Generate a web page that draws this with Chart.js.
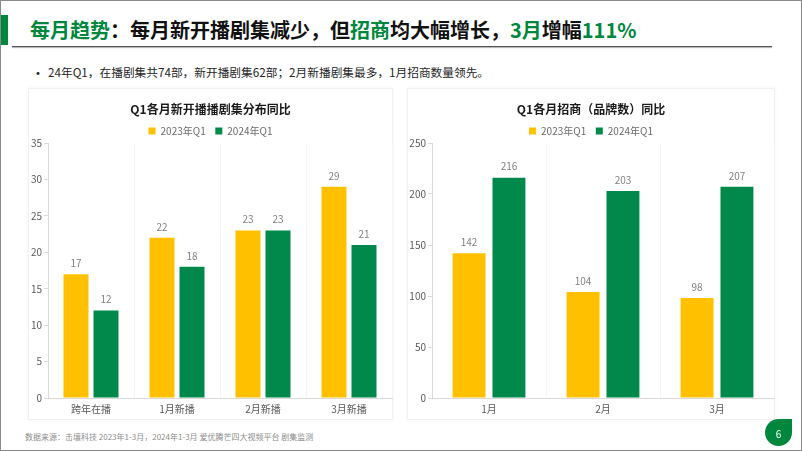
<!DOCTYPE html>
<html>
<head>
<meta charset="utf-8">
<script src="https://cdn.jsdelivr.net/npm/chart.js@4.4.1/dist/chart.umd.min.js"></script>
<style>
  html,body{margin:0;padding:0;background:#fff;}
  body{width:802px;height:451px;position:relative;overflow:hidden;font-family:"Noto Sans CJK SC","Noto Sans",sans-serif;}
  .frame{position:absolute;left:0;top:0;width:802px;height:451px;box-sizing:border-box;border:1px solid #8a8a8a;pointer-events:none;}
  .gbar{position:absolute;left:0;top:15px;width:8px;height:30px;background:#00873E;}
  .title{position:absolute;left:30px;top:19px;font-size:20px;font-weight:bold;line-height:22px;color:#111;white-space:nowrap;}
  .title .g{color:#00873E;}
  .uline{position:absolute;left:12px;top:46px;width:760px;height:1px;background:#555;box-shadow:0 1px 1px rgba(0,0,0,0.35);}
  .bullet{position:absolute;left:31px;top:64px;font-size:12px;line-height:16px;color:#262626;white-space:nowrap;}
  .bullet .dot{position:absolute;left:0;top:0;font-size:14px;}
  .bullet .txt{position:absolute;left:17px;top:0;font-size:11.7px;}
  .panel{position:absolute;top:88px;height:332px;background:#fff;border:1px solid #f0f0f0;box-sizing:border-box;box-shadow:0 0 3px rgba(0,0,0,0.05);}
  .panel canvas{position:absolute;left:0;top:0;}
  .foot{position:absolute;left:25px;top:431px;font-size:8px;line-height:12px;color:#8c8c8c;white-space:nowrap;}
  .leaf{position:absolute;left:765px;top:419px;width:27px;height:27px;background:#00873E;border-radius:50% 0 50% 50%;}
  .leaf span{position:absolute;left:0;top:0;width:27px;line-height:29px;text-align:center;color:#fff;font-size:10px;}
</style>
</head>
<body>
<div class="gbar"></div>
<div class="title"><span class="g">每月趋势</span>：每月新开播剧集减少，但<span class="g">招商</span>均大幅增长，<span class="g">3月</span>增幅<span class="g">111%</span></div>
<div class="uline"></div>
<div class="bullet"><span class="dot">•</span><span class="txt">24年Q1，在播剧集共74部，新开播剧集62部；2月新播剧集最多，1月招商数量领先。</span></div>
<div class="panel" style="left:28px;width:365px;"><canvas id="c1" width="365" height="332"></canvas></div>
<div class="panel" style="left:407px;width:368px;"><canvas id="c2" width="368" height="332"></canvas></div>
<div class="foot">数据来源：击壤科技 2023年1-3月，2024年1-3月 爱优腾芒四大视频平台 剧集监测</div>
<div class="leaf"><span>6</span></div>
<div class="frame"></div>
<script>
// ---- data ----
const seriesNames = ['2023年Q1', '2024年Q1'];
const dramaCategories = ['跨年在播', '1月新播', '2月新播', '3月新播'];
const drama2023 = [17, 22, 23, 29];
const drama2024 = [12, 18, 23, 21];
const brandCategories = ['1月', '2月', '3月'];
const brand2023 = [142, 104, 98];
const brand2024 = [216, 203, 207];
const chartTitles = ['Q1各月新开播播剧集分布同比', 'Q1各月招商（品牌数）同比'];

const YELLOW = '#FFC000';
const GREEN = '#00894A';
const FONT = '"Noto Sans CJK SC","Noto Sans",sans-serif';

const valueLabels = {
  id: 'valueLabels',
  afterDatasetsDraw(chart) {
    const ctx = chart.ctx;
    ctx.save();
    ctx.font = '10px ' + FONT;
    ctx.fillStyle = '#7f7f7f';
    ctx.textAlign = 'center';
    ctx.textBaseline = 'middle';
    chart.data.datasets.forEach((ds, i) => {
      chart.getDatasetMeta(i).data.forEach((bar, j) => {
        ctx.fillText(String(ds.data[j]), bar.x, bar.y - 11);
      });
    });
    ctx.restore();
  }
};

function makeChart(id, labels, a, b, title, max, step, yWidth, catPct, barPct) {
  new Chart(document.getElementById(id), {
    type: 'bar',
    data: {
      labels: labels,
      datasets: [
        {label: seriesNames[0], data: a, backgroundColor: YELLOW, categoryPercentage: catPct, barPercentage: barPct},
        {label: seriesNames[1], data: b, backgroundColor: GREEN, categoryPercentage: catPct, barPercentage: barPct}
      ]
    },
    options: {
      responsive: false,
      animation: false,
      layout: {padding: {left: 0, right: 2, top: 0, bottom: 0}},
      plugins: {
        title: {display: true, text: title, color: '#1a1a1a', font: {family: FONT, size: 12, weight: 'bold'}, padding: {top: 13, bottom: 0}},
        legend: {
          display: true,
          maxHeight: 26.6,
          labels: {boxWidth: 7, boxHeight: 7, padding: 9.6, color: '#6b6b6b', font: {family: FONT, size: 10}}
        },
        tooltip: {enabled: false}
      },
      scales: {
        x: {
          grid: {color: '#f4f4f4', drawTicks: false, offset: true},
          border: {color: '#d9d9d9'},
          ticks: {color: '#595959', padding: 5, font: {family: FONT, size: 10}},
          afterFit(s) { s.height = 23; }
        },
        y: {
          min: 0, max: max,
          grid: {color: 'rgba(0,0,0,0)', tickColor: '#d9d9d9', tickLength: 4},
          border: {color: '#d9d9d9'},
          ticks: {stepSize: step, color: '#595959', padding: 2, font: {family: FONT, size: 10}},
          afterFit(s) { s.width = yWidth; }
        }
      }
    },
    plugins: [valueLabels]
  });
}

makeChart('c1', dramaCategories, drama2023, drama2024, chartTitles[0], 35, 5, 19, 0.698, 0.833);
makeChart('c2', brandCategories, brand2023, brand2024, chartTitles[1], 250, 50, 24, 0.70, 0.825);
</script>
</body>
</html>
